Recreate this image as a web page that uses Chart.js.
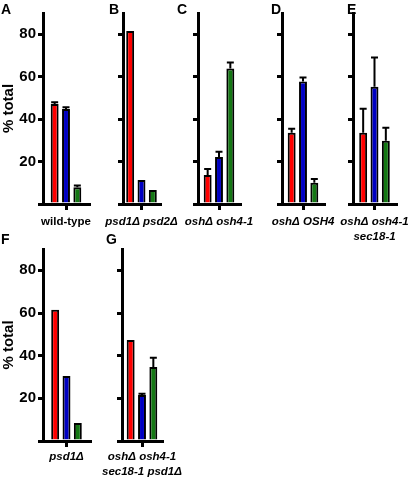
<!DOCTYPE html>
<html>
<head>
<meta charset="utf-8">
<script src="https://cdn.jsdelivr.net/npm/chart.js@4/dist/chart.umd.min.js"></script>
<style>
  body { margin: 0; background: #fff; }
  #page { position: relative; width: 410px; height: 477px; overflow: hidden; background: #fff; }
  #page canvas { position: absolute; }
  .letter { position: absolute; font: bold 14px "Liberation Sans", Arial, sans-serif; color: #000; }
</style>
</head>
<body>
<div id="page"></div>
<script>
// values (% total), one entry per panel A..G
const panelIds = ['A', 'B', 'C', 'D', 'E', 'F', 'G'];
const genotypes = [
    ['wild-type'],
    ['psd1Δ psd2Δ'],
    ['oshΔ osh4-1'],
    ['oshΔ OSH4'],
    ['oshΔ osh4-1', 'sec18-1'],
    ['psd1Δ'],
    ['oshΔ osh4-1', 'sec18-1 psd1Δ']
];
const redValues   = [47.1, 81.5, 13.7, 33.6, 33.6, 61.5, 47.4];
const redErrors   = [0.8, 0, 2.8, 1.8, 11.3, 0, 0];
const blueValues  = [44.8, 11.3, 22.2, 57.7, 55.3, 30.5, 21.6];
const blueErrors  = [0.8, 0, 2.4, 1.9, 13.7, 0, 0.6];
const greenValues = [7.9, 6.6, 63.8, 10.0, 29.8, 8.4, 34.7];
const greenErrors = [0.8, 0, 2.9, 1.8, 6.1, 0, 4.3];
const yTicks = [0, 20, 40, 60, 80];
const yMax = 90;

// layout of the panels on the page
const axisX  = [43, 123, 198, 282, 353, 43, 122];
const plotW  = [46, 37, 42, 42, 43, 47, 40];
const rowOf  = [0, 0, 0, 0, 0, 1, 1];
const rows = [
    { top: 0, pad: 13, plotH: 191, xH: 41, letterY: 1, tickPad: 4 },
    { top: 236, pad: 13, plotH: 192, xH: 36, letterY: 231, tickPad: 2 }
];
const letterX = [1, 109, 177, 271, 347, 1, 106];
const PADX = 45;
const GROUP_W = 34;
const font = '"Liberation Sans", Arial, sans-serif';

const errorBars = {
    id: 'errorBars',
    afterDatasetsDraw(chart) {
        const ctx = chart.ctx;
        const y = chart.scales.y;
        chart.data.datasets.forEach((ds, i) => {
            chart.getDatasetMeta(i).data.forEach((bar, j) => {
                const err = ds.errors[j];
                if (!err) return;
                const top = y.getPixelForValue(ds.data[j] + err);
                ctx.save();
                ctx.strokeStyle = '#000';
                ctx.lineWidth = 2;
                ctx.beginPath();
                ctx.moveTo(bar.x, bar.y);
                ctx.lineTo(bar.x, top);
                ctx.moveTo(bar.x - 3.5, top);
                ctx.lineTo(bar.x + 3.5, top);
                ctx.stroke();
                ctx.restore();
            });
        });
    }
};

const page = document.getElementById('page');

panelIds.forEach((id, i) => {
    const row = rows[rowOf[i]];
    const withLabels = (axisX[i] === 43);
    const yW = withLabels ? 43 : 10;
    const w = plotW[i];

    const canvas = document.createElement('canvas');
    canvas.width = PADX * 2 + yW + w;
    canvas.height = row.pad + row.plotH + row.xH;
    canvas.style.left = (axisX[i] - yW - PADX) + 'px';
    canvas.style.top = row.top + 'px';
    page.appendChild(canvas);

    const letter = document.createElement('div');
    letter.className = 'letter';
    letter.textContent = id;
    letter.style.left = letterX[i] + 'px';
    letter.style.top = row.letterY + 'px';
    page.appendChild(letter);

    const bar = (data, errors, color) => ({
        data: [data[i]],
        errors: [errors[i]],
        backgroundColor: color,
        borderColor: '#000',
        borderWidth: 2,
        categoryPercentage: GROUP_W / w,
        barPercentage: 0.7
    });

    new Chart(canvas, {
        type: 'bar',
        data: {
            labels: [genotypes[i]],
            datasets: [
                bar(redValues, redErrors, 'rgb(255,0,0)'),
                bar(blueValues, blueErrors, 'rgb(0,0,195)'),
                bar(greenValues, greenErrors, 'rgb(20,120,20)')
            ]
        },
        options: {
            responsive: false,
            animation: false,
            layout: { padding: { left: PADX, right: PADX, top: row.pad, bottom: 0 } },
            plugins: { legend: { display: false }, tooltip: { enabled: false } },
            scales: {
                x: {
                    z: 1,
                    grid: { drawOnChartArea: false, offset: false, tickLength: 6, lineWidth: 3, color: '#000' },
                    border: { display: true, width: 3, color: '#000' },
                    ticks: {
                        autoSkip: false, maxRotation: 0, minRotation: 0, padding: row.tickPad, color: '#000',
                        font: { family: font, size: 11.5, weight: 'bold', style: i === 0 ? 'normal' : 'italic', lineHeight: 1.3 }
                    },
                    afterFit: s => { s.height = row.xH; }
                },
                y: {
                    z: 1,
                    min: 0,
                    max: yMax,
                    afterBuildTicks: s => { s.ticks = yTicks.map(v => ({ value: v })); },
                    afterFit: s => { s.width = yW; },
                    grid: { drawOnChartArea: false, tickLength: 5, lineWidth: 3, color: '#000' },
                    border: { display: true, width: 3, color: '#000' },
                    ticks: {
                        padding: 2, color: '#000',
                        font: { family: font, size: 15, weight: 'bold' },
                        callback: v => (withLabels && v !== 0) ? v : ''
                    },
                    title: {
                        display: withLabels, text: '% total', color: '#000', padding: 0,
                        font: { family: font, size: 15, weight: 'bold' }
                    }
                }
            }
        },
        plugins: [errorBars]
    });
});
</script>
</body>
</html>
